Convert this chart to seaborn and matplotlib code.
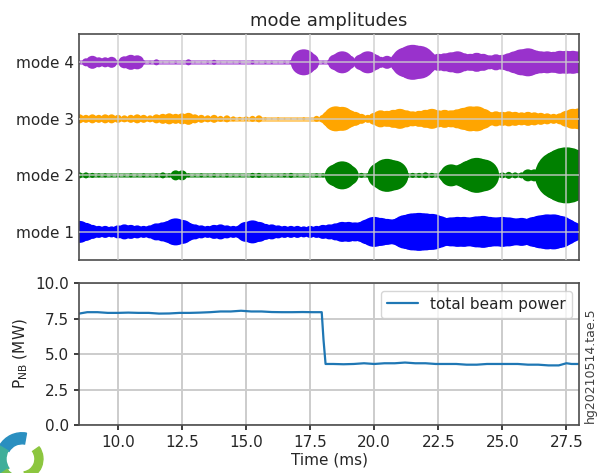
import numpy as np
import pandas as pd
import seaborn as sns
import matplotlib.pyplot as plt
from matplotlib.patches import Wedge

# sample times (ms) for the mode amplitude bubbles
mode_time = [8.5, 8.75, 9.0, 9.25, 9.5, 9.75, 10.0, 10.25, 10.5, 10.75,
             11.0, 11.25, 11.5, 11.75, 12.0, 12.25, 12.5, 12.75, 13.0, 13.25,
             13.5, 13.75, 14.0, 14.25, 14.5, 14.75, 15.0, 15.25, 15.5, 15.75,
             16.0, 16.25, 16.5, 16.75, 17.0, 17.25, 17.5, 17.75, 18.0, 18.25,
             18.5, 18.75, 19.0, 19.25, 19.5, 19.75, 20.0, 20.25, 20.5, 20.75,
             21.0, 21.25, 21.5, 21.75, 22.0, 22.25, 22.5, 22.75, 23.0, 23.25,
             23.5, 23.75, 24.0, 24.25, 24.5, 24.75, 25.0, 25.25, 25.5, 25.75,
             26.0, 26.25, 26.5, 26.75, 27.0, 27.25, 27.5, 27.75, 28.0]

# mode amplitudes (bubble diameter, arb. units)
mode1_amp = [22, 18, 14, 12, 12, 11, 13, 15, 14, 13,
             12, 13, 17, 19, 22, 27, 24, 18, 15, 13,
             12, 14, 15, 13, 12, 13, 20, 23, 20, 16,
             15, 13, 12, 12, 12, 11, 12, 12, 14, 15,
             17, 20, 20, 19, 20, 25, 30, 28, 26, 25,
             28, 34, 37, 38, 37, 36, 32, 28, 29, 30,
             30, 29, 31, 32, 30, 29, 30, 29, 27, 28,
             26, 30, 33, 35, 35, 32, 26, 20, 16]
mode2_amp = [6, 6, 5, 4, 4, 3, 4, 3, 4, 3,
             4, 3, 4, 6, 4, 10, 10, 4, 3, 4,
             3, 4, 3, 4, 3, 3, 3, 5, 5, 3,
             3, 3, 4, 5, 3, 3, 3, 4, 4, 6,
             22, 28, 20, 6, 5, 4, 8, 26, 33, 30,
             16, 6, 5, 5, 6, 5, 4, 12, 22, 20,
             24, 30, 35, 32, 18, 5, 6, 7, 6, 6,
             12, 12, 4, 4, 26, 50, 56, 50, 42]
mode3_amp = [9, 8, 9, 8, 9, 9, 8, 7, 8, 9,
             8, 7, 9, 10, 11, 10, 11, 12, 9, 8,
             7, 8, 6, 7, 5, 4, 5, 6, 7, 3,
             2, 3, 2, 2, 2, 3, 2, 6, 8, 16,
             25, 24, 18, 14, 10, 8, 12, 17, 16, 18,
             20, 17, 15, 16, 18, 20, 17, 18, 17, 19,
             22, 25, 25, 20, 14, 15, 14, 15, 14, 13,
             14, 13, 12, 11, 10, 11, 16, 20, 21]
mode4_amp = [3, 8, 13, 10, 10, 11, 4, 12, 15, 14,
             4, 3, 6, 2, 2, 3, 2, 6, 2, 2,
             3, 5, 2, 2, 2, 3, 2, 4, 2, 3,
             3, 2, 3, 4, 12, 26, 18, 4, 3, 5,
             16, 22, 14, 5, 16, 22, 16, 11, 13, 10,
             20, 30, 35, 33, 24, 15, 17, 18, 20, 22,
             18, 17, 19, 17, 14, 16, 15, 18, 22, 26,
             28, 24, 22, 22, 21, 23, 23, 23, 22]

mode_names = ['mode 1', 'mode 2', 'mode 3', 'mode 4']
mode_colors = ['blue', 'green', 'orange', 'darkorchid']
mode_amps = [mode1_amp, mode2_amp, mode3_amp, mode4_amp]

# total neutral beam power
power_time = [8.48, 8.8, 9.2, 9.6, 10.0, 10.4, 10.8, 11.2, 11.6, 12.0,
              12.4, 12.8, 13.2, 13.6, 14.0, 14.4, 14.8, 15.2, 15.6, 16.0,
              16.4, 16.8, 17.2, 17.6, 17.95, 18.02, 18.1, 18.4, 18.8, 19.2,
              19.6, 20.0, 20.4, 20.8, 21.2, 21.6, 22.0, 22.4, 22.8, 23.2,
              23.6, 24.0, 24.4, 24.8, 25.2, 25.6, 26.0, 26.4, 26.8, 27.2,
              27.5, 27.7, 28.0]
power_mw = [7.85, 7.95, 7.95, 7.9, 7.9, 7.92, 7.9, 7.9, 7.85, 7.86,
            7.9, 7.9, 7.92, 7.95, 8.0, 8.0, 8.05, 8.0, 8.0, 7.96,
            7.95, 7.95, 7.96, 7.95, 7.95, 6.0, 4.3, 4.3, 4.28, 4.3,
            4.35, 4.3, 4.35, 4.35, 4.4, 4.35, 4.35, 4.3, 4.3, 4.3,
            4.25, 4.25, 4.3, 4.3, 4.3, 4.3, 4.25, 4.25, 4.2, 4.2,
            4.35, 4.3, 4.3]

x_ticks = [10.0, 12.5, 15.0, 17.5, 20.0, 22.5, 25.0, 27.5]
p_ticks = [0.0, 2.5, 5.0, 7.5, 10.0]

sns.set_theme(style='ticks', rc={
    'xtick.labelsize': 11, 'ytick.labelsize': 11,
    'axes.labelsize': 11, 'axes.titlesize': 13,
    'legend.fontsize': 11,
    'xtick.major.size': 3.5, 'ytick.major.size': 3.5,
    'axes.edgecolor': '.3', 'axes.linewidth': 1.2,
})
plt.rcParams['font.family'] = ['DejaVu Sans']

fig = plt.figure(figsize=(5.99, 4.73), dpi=100)
ax1 = fig.add_axes([0.132, 0.450, 0.835, 0.478])
ax2 = fig.add_axes([0.132, 0.1015, 0.835, 0.300], sharex=ax1)

# top: bubbles per mode
for i, (name, col, amp) in enumerate(zip(mode_names, mode_colors, mode_amps)):
    df = pd.DataFrame({'time': mode_time, 'amp': amp})
    df['mode'] = i
    sns.lineplot(data=df, x='time', y='mode', color=col, alpha=0.55,
                 lw=3.5, estimator=None, ax=ax1, zorder=0.5)
    sns.scatterplot(data=df, x='time', y='mode', s=(df['amp'] * 0.72) ** 2,
                    color=col, linewidth=0, alpha=1, legend=False, ax=ax1,
                    zorder=1)

ax1.set_axisbelow(False)
ax1.grid(True, color='#cccccc', lw=1.3, alpha=0.75)
ax1.set_ylim(-0.5, 3.5)
ax1.set_yticks(range(4))
ax1.set_yticklabels(mode_names)
ax1.set_xlabel('')
ax1.set_ylabel('')
ax1.tick_params(labelbottom=False, length=0)
ax1.set_title('mode amplitudes')

# bottom: beam power
pw = pd.DataFrame({'time': power_time, 'power': power_mw})
sns.lineplot(data=pw, x='time', y='power', color='#1f77b4', lw=1.6,
             estimator=None, label='total beam power', ax=ax2)
ax2.grid(True, color='#cccccc', lw=1.4)
ax2.set_ylim(0, 10)
ax2.set_yticks(p_ticks)
ax2.set_yticklabels(['%.1f' % v for v in p_ticks])
ax2.set_xlim(8.48, 28.0)
ax2.set_xticks(x_ticks)
ax2.set_xticklabels(['%.1f' % v for v in x_ticks])
ax2.set_xlabel('Time (ms)', labelpad=2)
ax2.set_ylabel(r'P$_{\rm NB}$ (MW)')
ax2.legend(loc='upper right', frameon=True, fancybox=True, framealpha=0.8,
           edgecolor='#cccccc')

fig.text(0.985, 0.228, 'hg20210514.tae.5', rotation=90, ha='center',
         va='center', fontsize=9, color='.25')

# small logo in the lower-left corner
axl = fig.add_axes([0, 0, 0.075, 0.1])
axl.set_xlim(0, 45)
axl.set_ylim(0, 47)
axl.axis('off')
axl.add_patch(Wedge((22, 14), 26, 80, 150, width=11, color='#2a8fc0'))
axl.add_patch(Wedge((22, 14), 26, 150, 215, width=10, color='#3fae9a'))
axl.add_patch(Wedge((22, 14), 26, 215, 280, width=8, color='#7cc24a'))
axl.add_patch(Wedge((22, 14), 21, -80, 35, width=8, color='#8cc63f'))

fig.savefig('out.png', dpi=100)
